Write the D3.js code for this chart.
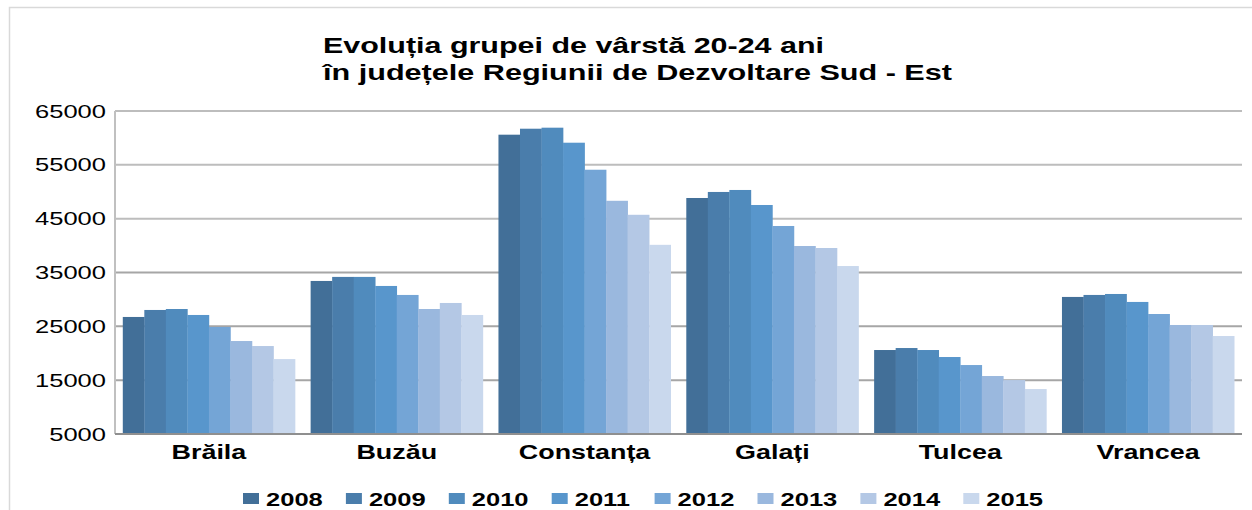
<!DOCTYPE html>
<html>
<head>
<meta charset="utf-8">
<script src="https://cdn.jsdelivr.net/npm/d3@7"></script>
<style>
  html, body { margin: 0; padding: 0; background: #fff; }
  svg { display: block; font-family: "Liberation Sans", Arial, sans-serif; }
</style>
</head>
<body>
<svg id="chart" width="1252" height="510"></svg>
<script>
// ─── Data ────────────────────────────────────────────
const counties = ['Brăila', 'Buzău', 'Constanța', 'Galați', 'Tulcea', 'Vrancea'];
const years = ['2008', '2009', '2010', '2011', '2012', '2013', '2014', '2015'];

const values2008 = [26740, 33430, 60600, 48840, 20600, 30460];
const values2009 = [28040, 34180, 61710, 49960, 20970, 30830];
const values2010 = [28220, 34180, 61900, 50330, 20600, 31010];
const values2011 = [27110, 32500, 59110, 47540, 19300, 29530];
const values2012 = [24880, 30830, 54090, 43640, 17810, 27290];
const values2013 = [22270, 28220, 48320, 39920, 15770, 25250];
const values2014 = [21340, 29340, 45720, 39550, 15020, 25250];
const values2015 = [18920, 27110, 40140, 36200, 13350, 23200];
const seriesValues = [values2008, values2009, values2010, values2011,
                      values2012, values2013, values2014, values2015];

const yTicks = [5000, 15000, 25000, 35000, 45000, 55000, 65000];
const titleLines = ['Evoluția grupei de vârstă 20-24 ani',
                    'în județele Regiunii de Dezvoltare Sud - Est'];

const colors = ['#426f98', '#4a7dab', '#508bbd', '#5896cc',
                '#74a5d6', '#9ab8de', '#b4c8e5', '#c9d8ed'];

// the source picture is stretched sideways, so text gets the same stretch
const SX = 1.38;

const svg = d3.select('#chart');
const W = 1252, H = 510;
const plot = { left: 115, right: 1242, top: 111, bottom: 434 };

// outer frame (only top and left edges are visible)
svg.append('path')
  .attr('d', `M9.5,${H} V7.5 H${W}`)
  .attr('fill', 'none')
  .attr('stroke', '#d9d9d9')
  .attr('stroke-width', 1.5);

// title
svg.selectAll('.title')
  .data(titleLines)
  .enter().append('text')
  .attr('class', 'title')
  .attr('x', 323)
  .attr('y', (d, i) => 53 + i * 27)
  .attr('font-size', 22)
  .attr('font-weight', 'bold')
  .attr('fill', '#000')
  .attr('textLength', (d, i) => i === 0 ? 501 : 629)
  .attr('lengthAdjust', 'spacingAndGlyphs')
  .text(d => d);

// scales
const x0 = d3.scaleBand()
  .domain(counties)
  .range([plot.left, plot.right])
  .paddingInner(0.083)
  .paddingOuter(0.0415);

const x1 = d3.scaleBand()
  .domain(years)
  .range([0, x0.bandwidth()]);

const y = d3.scaleLinear()
  .domain([5000, 65000])
  .range([plot.bottom, plot.top]);

// gridlines
svg.append('g')
  .selectAll('line')
  .data(yTicks.slice(1))
  .enter().append('line')
  .attr('x1', plot.left).attr('x2', plot.right)
  .attr('y1', d => y(d)).attr('y2', d => y(d))
  .attr('stroke', d => d >= 45000 ? '#bdbdbd' : '#a6a6a6')
  .attr('stroke-width', 2);

// y axis labels
svg.append('g')
  .selectAll('text')
  .data(yTicks)
  .enter().append('text')
  .attr('transform', d => `translate(106,${y(d) + 6.5}) scale(${SX},1)`)
  .attr('text-anchor', 'end')
  .attr('font-size', 18.5)
  .attr('fill', '#000')
  .text(d => d);

// bars
const groups = svg.append('g')
  .selectAll('g')
  .data(counties)
  .enter().append('g')
  .attr('transform', d => `translate(${x0(d)},0)`);

groups.selectAll('rect')
  .data((c, ci) => years.map((yr, si) => ({ year: yr, si, value: seriesValues[si][ci] })))
  .enter().append('rect')
  .attr('x', d => x1(d.year))
  .attr('width', x1.bandwidth() + 0.3)
  .attr('y', d => y(d.value))
  .attr('height', d => y(5000) - y(d.value))
  .attr('fill', d => colors[d.si]);

// axis lines
svg.append('line')
  .attr('x1', plot.left).attr('x2', plot.left)
  .attr('y1', plot.top).attr('y2', plot.bottom)
  .attr('stroke', '#c0c0c0').attr('stroke-width', 2);
svg.append('line')
  .attr('x1', plot.left).attr('x2', plot.right)
  .attr('y1', plot.bottom).attr('y2', plot.bottom)
  .attr('stroke', '#8f8f8f').attr('stroke-width', 2);

// category labels
svg.append('g')
  .selectAll('text')
  .data(counties)
  .enter().append('text')
  .attr('transform', d => `translate(${x0(d) + x0.bandwidth() / 2},459) scale(${SX},1)`)
  .attr('text-anchor', 'middle')
  .attr('font-size', 19.5)
  .attr('font-weight', 'bold')
  .attr('fill', '#000')
  .text(d => d);

// legend
const legend = svg.append('g')
  .selectAll('g')
  .data(years)
  .enter().append('g')
  .attr('transform', (d, i) => `translate(${243 + i * 102.9},493)`);

legend.append('rect')
  .attr('width', 16).attr('height', 11)
  .attr('fill', (d, i) => colors[i]);

legend.append('text')
  .attr('transform', `translate(23,12.5) scale(${SX},1)`)
  .attr('font-size', 18.5)
  .attr('font-weight', 'bold')
  .attr('fill', '#000')
  .text(d => d);
</script>
</body>
</html>
